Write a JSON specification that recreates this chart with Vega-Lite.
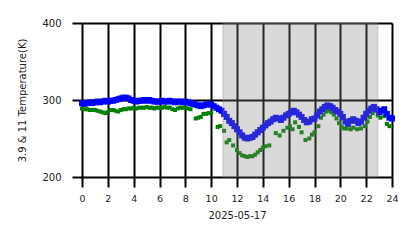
{
  "$schema": "https://vega.github.io/schema/vega-lite/v6.json",
  "width": 310,
  "height": 154,
  "autosize": "none",
  "padding": {"left": 82, "top": 23, "right": 26, "bottom": 71},
  "background": "white",
  "config": {
    "font": "DejaVu Sans",
    "view": {"stroke": null},
    "axis": {
      "grid": true, "gridColor": "black", "gridWidth": 2, "gridOpacity": 1,
      "domain": false, "tickColor": "black", "tickWidth": 2, "tickSize": 10,
      "labelFont": "DejaVu Sans", "labelFontSize": 10, "labelColor": "#222222",
      "titleFont": "DejaVu Sans", "titleFontSize": 10, "titleFontWeight": "normal", "titleColor": "#222222",
      "zindex": 1
    }
  },
  "datasets": {
    "blue": [
      {"h":0.0,"t":296},{"h":0.2,"t":295},{"h":0.4,"t":296},{"h":0.6,"t":297},{"h":0.8,"t":296},{"h":1.0,"t":297},{"h":1.2,"t":298},{"h":1.4,"t":297},{"h":1.6,"t":298},{"h":1.8,"t":299},
      {"h":2.0,"t":298},{"h":2.2,"t":299},{"h":2.4,"t":299},{"h":2.6,"t":300},{"h":2.8,"t":301},{"h":3.0,"t":302},{"h":3.2,"t":303},{"h":3.4,"t":303},{"h":3.6,"t":302},{"h":3.8,"t":300},
      {"h":4.0,"t":299},{"h":4.2,"t":298},{"h":4.4,"t":299},{"h":4.6,"t":299},{"h":4.8,"t":300},{"h":5.0,"t":299},{"h":5.2,"t":300},{"h":5.4,"t":299},{"h":5.6,"t":298},{"h":5.8,"t":298},
      {"h":6.0,"t":298},{"h":6.2,"t":299},{"h":6.4,"t":298},{"h":6.6,"t":298},{"h":6.8,"t":299},{"h":7.0,"t":298},{"h":7.2,"t":297},{"h":7.4,"t":298},{"h":7.6,"t":298},{"h":7.8,"t":297},
      {"h":8.0,"t":298},{"h":8.2,"t":297},{"h":8.4,"t":296},{"h":8.6,"t":295},{"h":8.8,"t":294},{"h":9.0,"t":293},{"h":9.2,"t":292},{"h":9.4,"t":293},{"h":9.6,"t":294},{"h":9.8,"t":295},
      {"h":10.0,"t":294},{"h":10.2,"t":292},{"h":10.4,"t":290},{"h":10.6,"t":288},{"h":10.8,"t":286},{"h":11.0,"t":282},{"h":11.2,"t":278},{"h":11.4,"t":273},{"h":11.6,"t":270},{"h":11.8,"t":266},
      {"h":12.0,"t":262},{"h":12.2,"t":258},{"h":12.4,"t":254},{"h":12.6,"t":251},{"h":12.8,"t":250},{"h":13.0,"t":251},{"h":13.2,"t":252},{"h":13.4,"t":255},{"h":13.6,"t":258},{"h":13.8,"t":261},
      {"h":14.0,"t":264},{"h":14.2,"t":267},{"h":14.4,"t":270},{"h":14.6,"t":272},{"h":14.8,"t":275},{"h":15.0,"t":277},{"h":15.2,"t":276},{"h":15.4,"t":274},{"h":15.6,"t":277},{"h":15.8,"t":280},
      {"h":16.0,"t":282},{"h":16.2,"t":284},{"h":16.4,"t":286},{"h":16.6,"t":284},{"h":16.8,"t":281},{"h":17.0,"t":278},{"h":17.2,"t":274},{"h":17.4,"t":271},{"h":17.6,"t":272},{"h":17.8,"t":275},
      {"h":18.0,"t":276},{"h":18.2,"t":280},{"h":18.4,"t":285},{"h":18.6,"t":288},{"h":18.8,"t":291},{"h":19.0,"t":293},{"h":19.2,"t":292},{"h":19.4,"t":290},{"h":19.6,"t":287},{"h":19.8,"t":285},
      {"h":20.0,"t":282},{"h":20.2,"t":278},{"h":20.4,"t":272},{"h":20.6,"t":269},{"h":20.8,"t":273},{"h":21.0,"t":275},{"h":21.2,"t":273},{"h":21.4,"t":270},{"h":21.6,"t":272},{"h":21.8,"t":277},
      {"h":22.0,"t":282},{"h":22.2,"t":286},{"h":22.4,"t":289},{"h":22.6,"t":291},{"h":22.8,"t":288},{"h":23.0,"t":284},{"h":23.2,"t":286},{"h":23.4,"t":288},{"h":23.6,"t":282},{"h":23.8,"t":277},{"h":24.0,"t":276}
    ],
    "green": [
      {"h":0.0,"t":289},{"h":0.2,"t":288},{"h":0.4,"t":288},{"h":0.6,"t":287},{"h":0.8,"t":287},{"h":1.0,"t":287},{"h":1.2,"t":286},{"h":1.4,"t":285},{"h":1.6,"t":284},{"h":1.8,"t":283},
      {"h":2.0,"t":284},{"h":2.2,"t":287},{"h":2.4,"t":287},{"h":2.6,"t":286},{"h":2.8,"t":285},{"h":3.0,"t":287},{"h":3.2,"t":288},{"h":3.4,"t":288},{"h":3.6,"t":289},{"h":3.8,"t":289},
      {"h":4.0,"t":290},{"h":4.2,"t":289},{"h":4.4,"t":290},{"h":4.6,"t":290},{"h":4.8,"t":290},{"h":5.0,"t":291},{"h":5.2,"t":290},{"h":5.4,"t":290},{"h":5.6,"t":289},{"h":5.8,"t":290},
      {"h":6.0,"t":290},{"h":6.2,"t":290},{"h":6.4,"t":291},{"h":6.6,"t":290},{"h":6.8,"t":290},{"h":7.0,"t":288},{"h":7.2,"t":287},{"h":7.4,"t":289},{"h":7.6,"t":290},{"h":7.8,"t":290},
      {"h":8.0,"t":290},{"h":8.2,"t":289},{"h":8.4,"t":288},{"h":8.8,"t":276},{"h":9.0,"t":277},{"h":9.2,"t":278},{"h":9.4,"t":282},{"h":9.6,"t":282},{"h":9.8,"t":283},{"h":10.0,"t":283},
      {"h":10.5,"t":265},{"h":10.7,"t":266},{"h":11.0,"t":260},{"h":11.2,"t":245},{"h":11.4,"t":248},{"h":11.7,"t":241},{"h":12.0,"t":235},{"h":12.2,"t":231},{"h":12.4,"t":228},{"h":12.6,"t":227},
      {"h":12.8,"t":226},{"h":13.0,"t":227},{"h":13.2,"t":227},{"h":13.4,"t":229},{"h":13.6,"t":232},{"h":13.8,"t":235},{"h":14.0,"t":238},{"h":14.2,"t":240},{"h":14.5,"t":241},{"h":15.0,"t":257},
      {"h":15.3,"t":254},{"h":15.6,"t":260},{"h":15.9,"t":264},{"h":16.1,"t":266},{"h":16.3,"t":262},{"h":16.5,"t":271},{"h":16.8,"t":265},{"h":17.0,"t":258},{"h":17.3,"t":248},{"h":17.6,"t":250},
      {"h":17.8,"t":255},{"h":18.0,"t":258},{"h":18.3,"t":266},{"h":18.5,"t":277},{"h":18.7,"t":281},{"h":18.9,"t":285},{"h":19.1,"t":286},{"h":19.3,"t":284},{"h":19.5,"t":281},{"h":19.7,"t":276},
      {"h":19.9,"t":270},{"h":20.1,"t":265},{"h":20.3,"t":263},{"h":20.5,"t":263},{"h":20.8,"t":262},{"h":21.0,"t":264},{"h":21.3,"t":262},{"h":21.6,"t":263},{"h":21.9,"t":266},{"h":22.1,"t":272},
      {"h":22.3,"t":278},{"h":22.5,"t":283},{"h":22.7,"t":286},{"h":22.9,"t":280},{"h":23.1,"t":277},{"h":23.4,"t":279},{"h":23.6,"t":269},{"h":23.8,"t":266}
    ],
    "span": [{"start": 10.9, "end": 22.9}]
  },
  "layer": [
    {
      "data": {"name": "green"},
      "mark": {"type": "point", "shape": "square", "filled": true, "color": "#008000", "size": 16, "opacity": 1},
      "encoding": {
        "x": {"field": "h", "type": "quantitative", "scale": {"domain": [0, 24], "nice": false},
              "axis": {"values": [0,2,4,6,8,10,12,14,16,18,20,22,24], "title": "2025-05-17", "labelPadding": 6, "titlePadding": 8,
                       "labelOverlap": false, "labelFlush": false, "labelBound": false, "labelFontSize": 9.5}},
        "y": {"field": "t", "type": "quantitative", "scale": {"domain": [200, 400], "nice": false, "zero": false},
              "axis": {"values": [200, 300, 400], "title": "3.9 & 11 Temperature(K)", "labelPadding": 11, "titlePadding": 14, "labelOverlap": false}}
      }
    },
    {
      "data": {"name": "blue"},
      "mark": {"type": "point", "shape": "square", "filled": true, "color": "#0000ff", "size": 36, "opacity": 1},
      "encoding": {
        "x": {"field": "h", "type": "quantitative",
              "axis": {"values": [0,2,4,6,8,10,12,14,16,18,20,22,24], "title": "2025-05-17", "labelPadding": 6, "titlePadding": 8,
                       "labelOverlap": false, "labelFlush": false, "labelBound": false, "labelFontSize": 9.5}},
        "y": {"field": "t", "type": "quantitative",
              "axis": {"values": [200, 300, 400], "title": "3.9 & 11 Temperature(K)", "labelPadding": 11, "titlePadding": 14, "labelOverlap": false}}
      }
    },
    {
      "data": {"name": "span"},
      "mark": {"type": "rect", "color": "#808080", "fillOpacity": 0.3, "stroke": "#808080", "strokeOpacity": 0.2, "strokeWidth": 2},
      "encoding": {
        "x": {"field": "start", "type": "quantitative",
              "axis": {"values": [0,2,4,6,8,10,12,14,16,18,20,22,24], "title": "2025-05-17", "labelPadding": 6, "titlePadding": 8,
                       "labelOverlap": false, "labelFlush": false, "labelBound": false, "labelFontSize": 9.5}},
        "x2": {"field": "end"}
      }
    }
  ]
}
